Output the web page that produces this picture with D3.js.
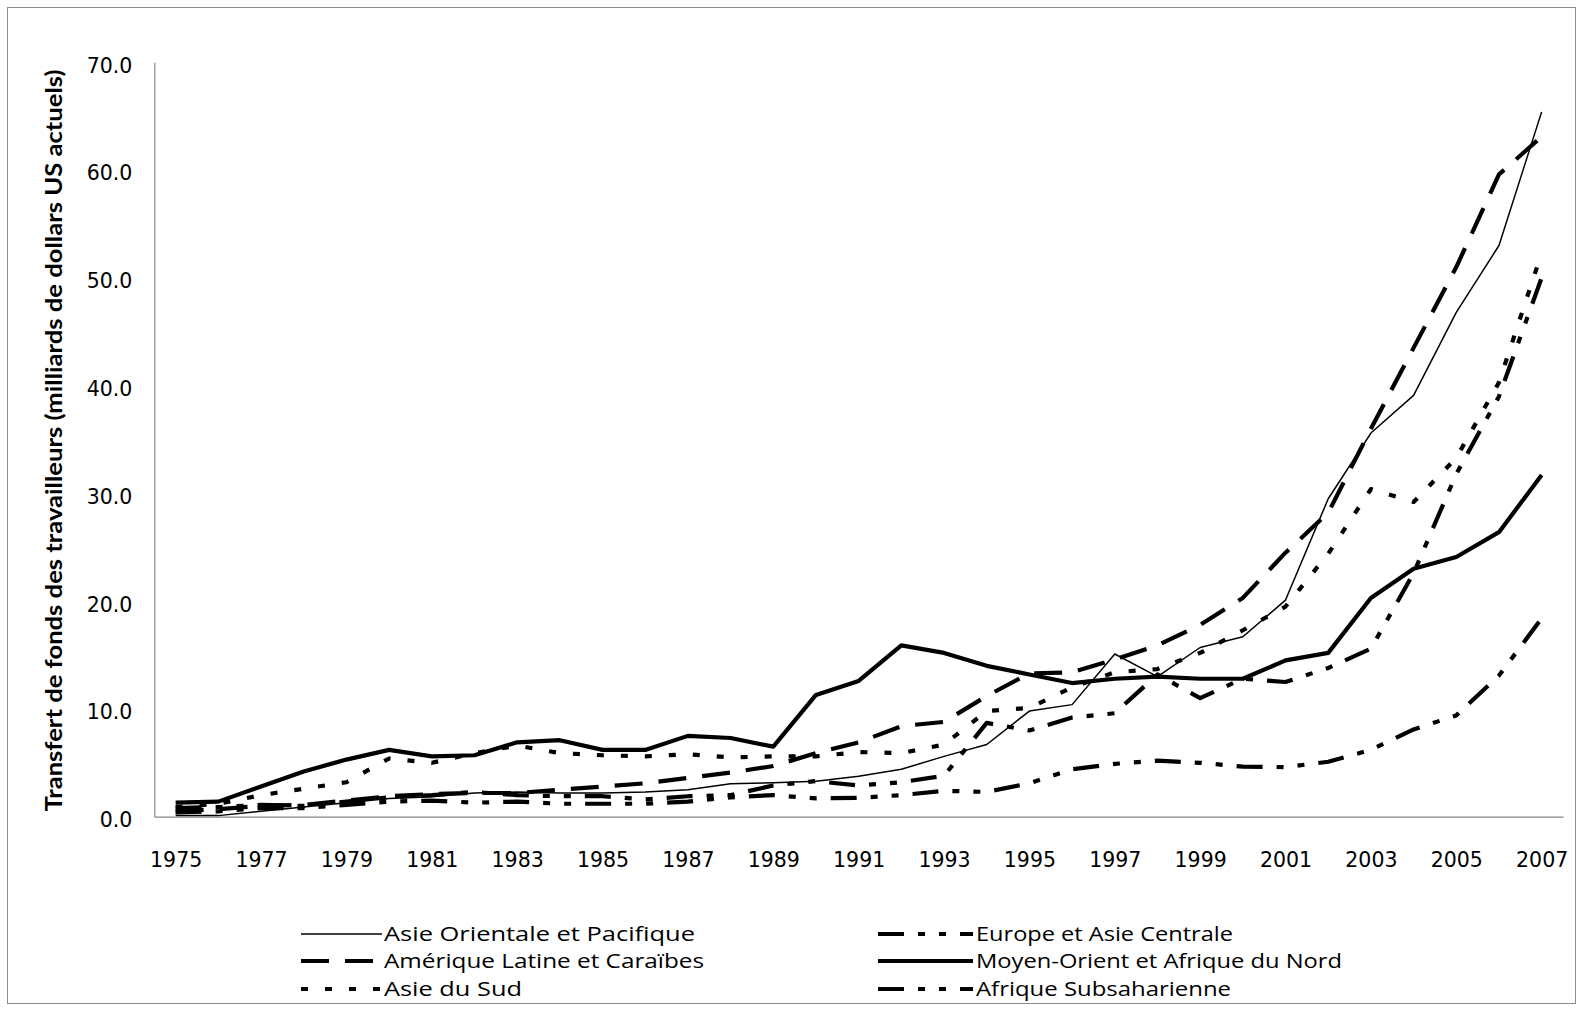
<!DOCTYPE html>
<html>
<head>
<meta charset="utf-8">
<script src="https://cdn.jsdelivr.net/npm/d3@7"></script>
<style>
  html, body { margin: 0; padding: 0; background: #fff; }
  svg { display: block; }
</style>
</head>
<body>
<svg id="chart" width="1583" height="1011"></svg>
<script>
// ---- Data ----
const years = [1975,1976,1977,1978,1979,1980,1981,1982,1983,1984,1985,1986,1987,1988,1989,1990,1991,1992,1993,1994,1995,1996,1997,1998,1999,2000,2001,2002,2003,2004,2005,2006,2007];
const xTickLabels = [1975,1977,1979,1981,1983,1985,1987,1989,1991,1993,1995,1997,1999,2001,2003,2005,2007];
const yTicks = [0,10,20,30,40,50,60,70];

const asieOrientale = [0.1,0.1,0.5,0.9,1.3,1.7,1.85,2.2,2.3,2.2,2.2,2.3,2.5,3.05,3.15,3.3,3.75,4.4,5.6,6.7,9.8,10.4,15.1,13.0,15.7,16.7,20.1,29.5,35.6,39.1,46.8,53.0,65.4];
const europeAsieCentrale = [0.8,0.9,1.1,1.0,1.4,1.8,2.0,2.3,2.0,1.9,1.9,1.6,1.9,2.0,2.9,3.3,2.9,3.2,3.8,8.7,8.0,9.2,9.6,13.2,11.0,12.8,12.5,13.8,15.6,22.6,31.8,39.0,50.0];
const ameriqueLatine = [0.5,0.7,1.0,1.1,1.5,1.9,2.1,2.2,2.2,2.5,2.8,3.1,3.6,4.1,4.7,5.9,6.9,8.4,8.8,11.2,13.3,13.4,14.6,15.9,17.8,20.3,24.5,28.2,36.0,43.5,51.0,59.6,63.1];
const moyenOrient = [1.3,1.4,2.8,4.2,5.3,6.2,5.6,5.7,6.9,7.1,6.2,6.2,7.5,7.3,6.5,11.3,12.6,15.9,15.2,14.0,13.2,12.4,12.8,13.0,12.8,12.8,14.5,15.2,20.3,23.0,24.1,26.4,31.7];
const asieDuSud = [0.9,1.2,2.0,2.6,3.2,5.4,5.0,5.9,6.6,5.9,5.7,5.6,5.8,5.5,5.6,5.6,6.0,5.9,6.7,9.8,10.1,12.0,13.4,13.7,15.2,17.3,19.5,24.4,30.4,29.2,33.3,40.3,52.3];
const afriqueSub = [0.4,0.5,0.8,0.8,1.1,1.4,1.5,1.3,1.4,1.2,1.2,1.2,1.4,1.8,2.0,1.7,1.75,2.0,2.4,2.3,3.1,4.4,4.9,5.2,5.0,4.65,4.6,5.1,6.2,8.1,9.4,13.1,18.4];

const seriesNames = ["Asie Orientale et Pacifique","Europe et Asie Centrale","Amérique Latine et Caraïbes","Moyen-Orient et Afrique du Nord","Asie du Sud","Afrique Subsaharienne"];
const seriesValues = [asieOrientale, europeAsieCentrale, ameriqueLatine, moyenOrient, asieDuSud, afriqueSub];
const yTitle = "Transfert de fonds des travailleurs (milliards de dollars US actuels)";

// ---- Styles ----
const styles = [
  {w:1.5, dash:null},
  {w:4.2, dash:"26,14,7,14,7,14"},
  {w:4.2, dash:"28,16"},
  {w:4.2, dash:null},
  {w:4.2, dash:"7,17"},
  {w:4.2, dash:"26,14,7,14,7,14"}
];
const legendPos = [
  {x0:301, x1:382, tx:384, y:934, tw:311},
  {x0:878, x1:973, tx:976, y:934, tw:257},
  {x0:301, x1:382, tx:384, y:961, tw:320},
  {x0:878, x1:973, tx:976, y:961, tw:366},
  {x0:301, x1:382, tx:384, y:989, tw:138},
  {x0:878, x1:973, tx:976, y:989, tw:255}
];

const svg = d3.select("#chart");
const plot = {left:154.3, right:1563, top:62.3, bottom:816.7};

svg.append("rect").attr("x",7.5).attr("y",7.5).attr("width",1568).attr("height",996)
  .attr("fill","none").attr("stroke","#8c8c8c").attr("stroke-width",1);

const x = d3.scalePoint().domain(years).range([plot.left, plot.right]).padding(0.5);
const y = d3.scaleLinear().domain([0,70]).range([plot.bottom, plot.top]);

const yAxis = d3.axisLeft(y).tickValues(yTicks).tickSize(0).tickPadding(22).tickFormat(d3.format(".1f"));
const gy = svg.append("g").attr("transform",`translate(${plot.left},0)`).call(yAxis);
gy.attr("font-family",null).attr("font-size",null);
gy.select(".domain").attr("stroke","#888").attr("stroke-width",1.2);
gy.selectAll("text").style("font-size","20.5px").style("font-family","'DejaVu Sans'").attr("fill","#000").attr("dy","0.48em");

const xAxis = d3.axisBottom(x).tickValues(xTickLabels).tickSize(0).tickPadding(36);
const gx = svg.append("g").attr("transform",`translate(0,${plot.bottom})`).call(xAxis);
gx.attr("font-family",null).attr("font-size",null);
gx.select(".domain").attr("stroke","#888").attr("stroke-width",1.2);
gx.selectAll("text").style("font-size","20.5px").style("font-family","'DejaVu Sans'").attr("fill","#000");

const line = d3.line().x((d,i)=>x(years[i])).y(d=>y(d));
seriesValues.forEach((vals,i)=>{
  svg.append("path").datum(vals)
    .attr("d", line)
    .attr("fill","none")
    .attr("stroke","#000")
    .attr("stroke-width", styles[i].w)
    .attr("stroke-linejoin","round")
    .attr("stroke-dasharray", styles[i].dash);
});

svg.append("text")
  .attr("transform",`translate(62,${(plot.top+plot.bottom)/2 + 1}) rotate(-90)`)
  .attr("text-anchor","middle")
  .style("font-family","Lato").style("font-size","22px").style("font-weight","bold")
  .attr("fill","#000")
  .attr("textLength",742).attr("lengthAdjust","spacingAndGlyphs")
  .text(yTitle);

seriesNames.forEach((name,i)=>{
  const p = legendPos[i];
  svg.append("line").attr("x1",p.x0).attr("x2",p.x1).attr("y1",p.y).attr("y2",p.y)
    .attr("stroke","#000").attr("stroke-width", styles[i].w)
    .attr("stroke-dasharray", styles[i].dash);
  svg.append("text").attr("x",p.tx).attr("y",p.y).attr("dy","0.36em")
    .style("font-family","'Open Sans'").style("font-size","19.5px").attr("fill","#000")
    .attr("textLength",p.tw).attr("lengthAdjust","spacingAndGlyphs")
    .text(name);
});
</script>
</body>
</html>
